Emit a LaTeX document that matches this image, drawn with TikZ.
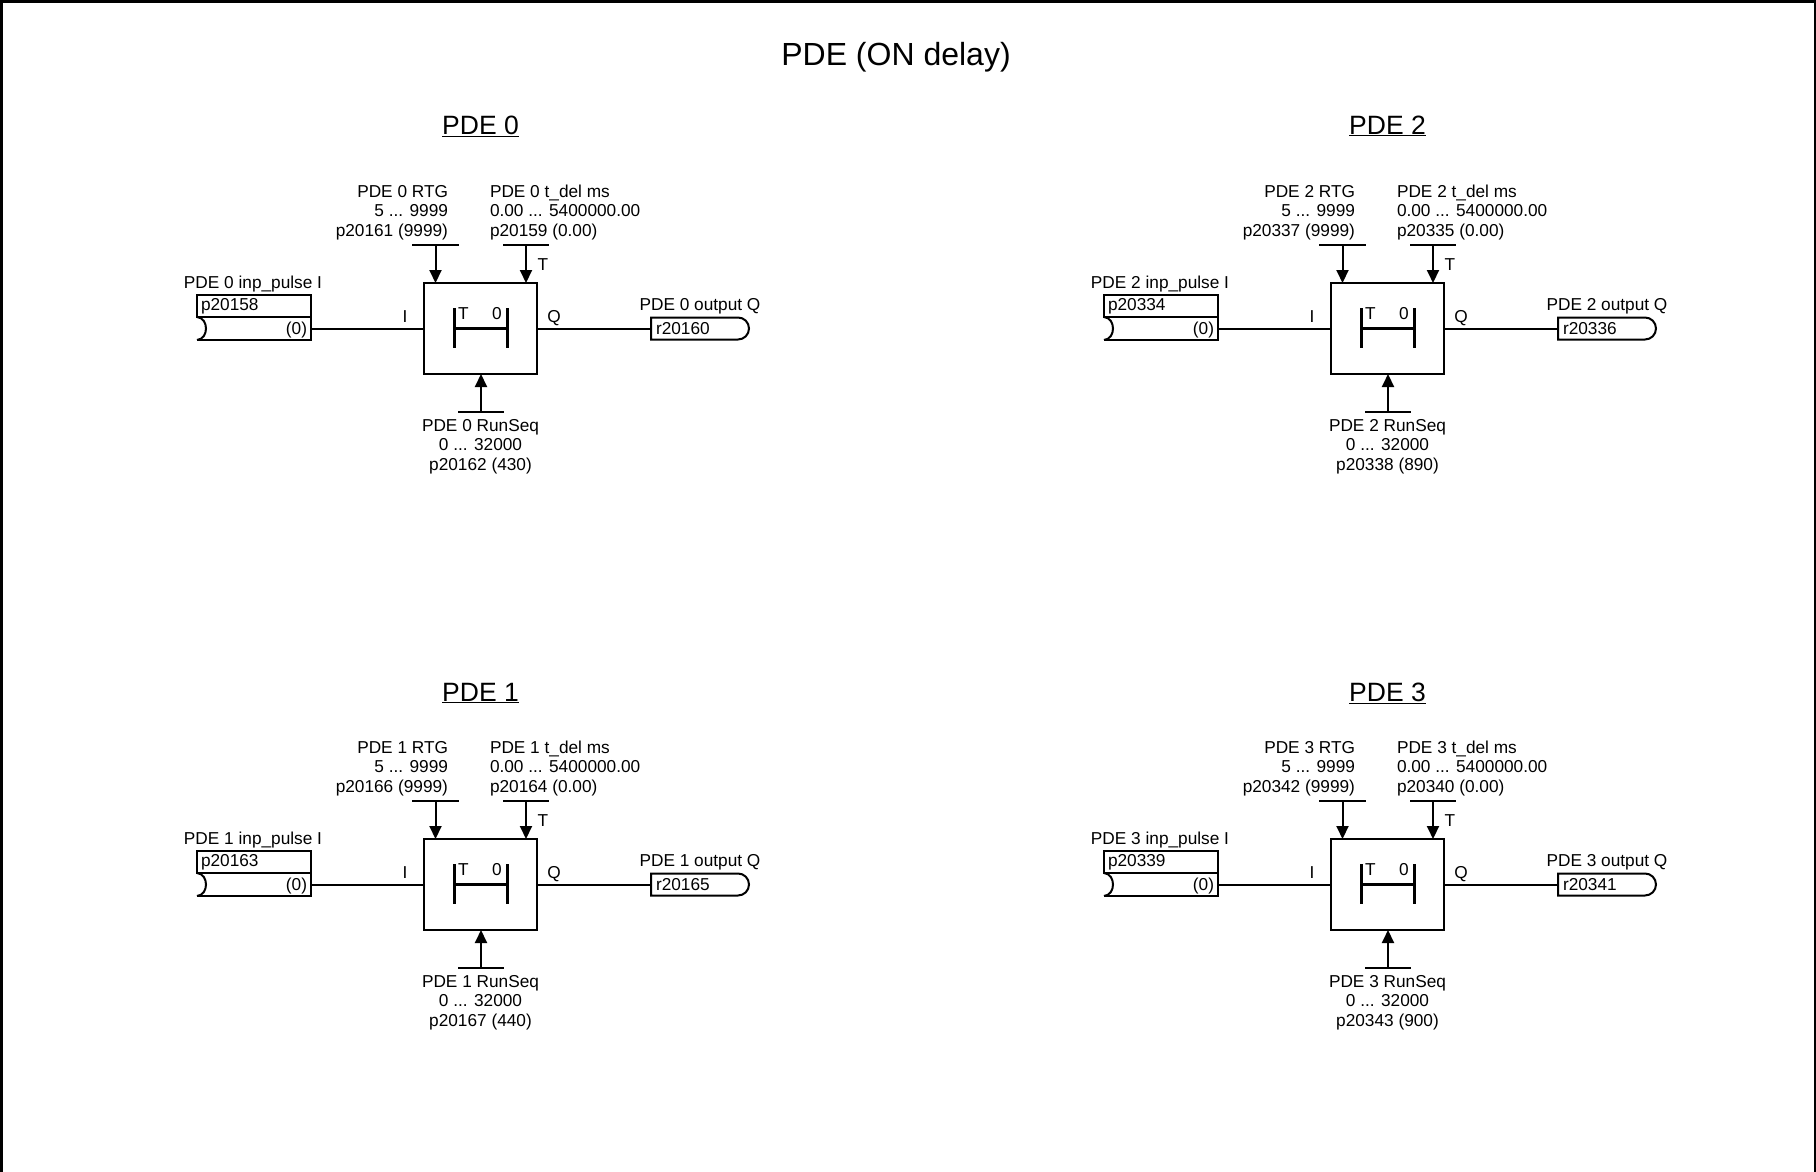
\documentclass[tikz,border=0pt]{standalone}
\usepackage{fontspec}
\setmainfont{Liberation Sans}
\usetikzlibrary{arrows.meta,positioning}

\begin{document}
\begin{tikzpicture}[
    x=1pt, y=-1pt,
    every node/.style={inner sep=0pt, outer sep=0pt, font=\fontsize{17.25}{19.1}\selectfont},
    wire/.style={line width=2pt},
    sigarrow/.style={line width=2pt, -{Triangle[length=13pt,width=12pt]}},
    funcblock/.style={draw, line width=2.2pt, minimum width=113pt, minimum height=91pt},
    bigtitle/.style={font=\fontsize{32}{36}\selectfont},
    subtitle/.style={font=\fontsize{26.5}{30}\selectfont},
    inpbox/.style={draw, line width=2.2pt, minimum width=114pt, minimum height=22pt},
    inpslot/.style={minimum width=114pt, minimum height=23pt}
]
\useasboundingbox (0,0) rectangle (1816,1172);
\draw[line width=3.4pt] (1.7,1172) -- (1.7,1.7) -- (1815.6,1.7) -- (1815.6,1172);

\node[bigtitle] (title) at (896,57) {PDE (ON delay)};

% one group per PDE
\foreach \pde/\dx/\dy/\heady/\inp/\tdel/\outp/\rtg/\seq/\seqval in {
    0/0/0/126/20158/20159/20160/20161/20162/430,
    1/0/556/137/20163/20164/20165/20166/20167/440,
    2/907/0/126/20334/20335/20336/20337/20338/890,
    3/907/556/137/20339/20340/20341/20342/20343/900} {
\begin{scope}[shift={(\dx,\dy)}]
    \node[subtitle] (head\pde) at (480.5,\heady) {\underline{PDE \pde}};

    \node[funcblock] (blk\pde) at (480.5,328.5) {};

    % parameter bars
    \coordinate (rtg\pde) at (435.5,245);
    \coordinate (tdel\pde) at (526,245);
    \coordinate (seq\pde) at (481,411.5);
    \draw[wire] (412,245) -- (458.5,245);
    \draw[wire] (503,245) -- (549,245);
    \draw[wire] (458,411.5) -- (504,411.5);
    \draw[sigarrow] (rtg\pde) -- (rtg\pde |- blk\pde.north);
    \draw[sigarrow] (tdel\pde) -- (tdel\pde |- blk\pde.north);
    \draw[sigarrow] (seq\pde) -- (seq\pde |- blk\pde.south);

    \node[anchor=base east, align=right] (rtgtxt\pde) at (448,236) {PDE \pde{} RTG\\5 ... 9999\\p\rtg{} (9999)};
    \node[anchor=base west, align=left] (tdeltxt\pde) at (490,236) {PDE \pde{} t\_del ms\\0.00 ... 5400000.00\\p\tdel{} (0.00)};
    \node[anchor=base, align=center] (seqtxt\pde) at (480.5,470) {PDE \pde{} RunSeq\\0 ... 32000\\p\seq{} (\seqval)};

    % input box
    \node[inpbox] (inp\pde) at (254,306) {};
    \node[inpslot, below=0pt of inp\pde] (inps\pde) {};
    \draw[wire] (inps\pde.north west) -- (inps\pde.north east) -- (inps\pde.south east) -- (inps\pde.south west);
    \draw[wire] (inps\pde.north west) .. controls (209,318) and (209,339) .. (inps\pde.south west);
    \node[anchor=base west] (inpnum\pde) at (201,310) {p\inp};
    \node[anchor=base east] (inpval\pde) at (307,334) {(0)};
    \node[anchor=base] (inptxt\pde) at (253,288) {PDE \pde{} inp\_pulse I};

    % output box
    \node[minimum width=98pt, minimum height=22pt] (out\pde) at (700,328.5) {};
    \draw[wire] (out\pde.south west) -- (out\pde.north west)
        [rounded corners=11pt] -- (out\pde.north east) -- (out\pde.south east)
        [sharp corners] -- (out\pde.south west) -- cycle;
    \node[anchor=base west] (outnum\pde) at (656,334) {r\outp};
    \node[anchor=base] (outtxt\pde) at (700,310) {PDE \pde{} output Q};

    \draw[wire] (inps\pde.east) -- (blk\pde.west);
    \draw[wire] (blk\pde.east) -- (out\pde.west);

    \node[anchor=base] (ilab\pde) at (405,322) {I};
    \node[anchor=base] (qlab\pde) at (554,322) {Q};
    \node[anchor=base] (tlab\pde) at (543,270) {T};

    % timer symbol
    \draw[line width=3pt] (454,308) -- (454,348);
    \draw[line width=3pt] (507,308) -- (507,348);
    \draw[line width=2.8pt] (454,328.5) -- (507,328.5);
    \node[anchor=base] (tsym\pde) at (463.5,319) {T};
    \node[anchor=base] (zsym\pde) at (497,319) {0};
\end{scope}
}
\end{tikzpicture}
\end{document}
